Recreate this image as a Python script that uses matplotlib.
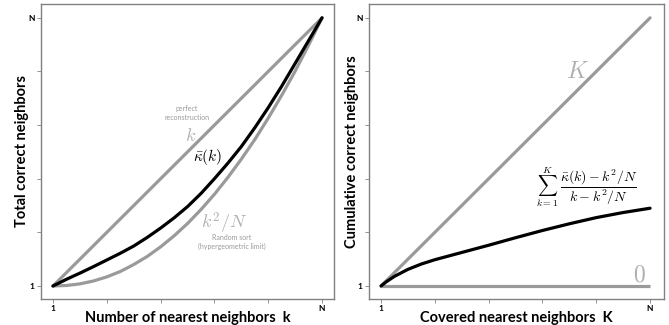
import matplotlib
matplotlib.use("Agg")
import matplotlib.pyplot as plt

# left panel: total correct neighbors vs k (scaled 0..1 between 1 and N)
k_line_x = [0.0, 1.0]
k_line_y = [0.0, 1.0]
rand_x = [0.0, 0.05, 0.1, 0.15, 0.2, 0.25, 0.3, 0.35, 0.4, 0.45, 0.5, 0.55, 0.6, 0.65,
          0.7, 0.75, 0.8, 0.85, 0.9, 0.95, 1.0]
rand_y = [0.0, 0.0019, 0.0079, 0.0186, 0.034, 0.054, 0.08, 0.11, 0.146, 0.187, 0.233,
          0.285, 0.342, 0.405, 0.473, 0.546, 0.626, 0.711, 0.801, 0.898, 1.0]
kappa_x = [0.0, 0.05, 0.1, 0.15, 0.2, 0.25, 0.3, 0.35, 0.4, 0.45, 0.5, 0.55, 0.6, 0.65,
           0.7, 0.75, 0.8, 0.85, 0.9, 0.95, 1.0]
kappa_y = [0.0, 0.025, 0.048, 0.072, 0.097, 0.122, 0.149, 0.181, 0.216, 0.254, 0.296,
           0.345, 0.4, 0.458, 0.52, 0.59, 0.665, 0.745, 0.83, 0.915, 1.0]

# right panel: cumulative correct neighbors vs K
cum_x = [0.0, 0.02, 0.05, 0.1, 0.15, 0.2, 0.3, 0.4, 0.5, 0.6, 0.7, 0.8, 0.9, 1.0]
cum_y = [0.0, 0.016, 0.036, 0.062, 0.082, 0.098, 0.125, 0.152, 0.18, 0.207, 0.232, 0.255,
         0.274, 0.29]
zero_x = [0.0, 1.0]
zero_y = [0.0, 0.0]

tick_pos = [0.0, 0.2, 0.4, 0.6, 0.8, 1.0]
tick_lbl = ["1", "", "", "", "", "N"]

GRAY = "#9a9a9a"
LIGHT = "#b0b0b0"
SPINE = "#808080"
LW = 2.3

plt.rcParams["font.family"] = ["Lato", "DejaVu Sans"]
plt.rcParams["mathtext.fontset"] = "cm"

fig = plt.figure(figsize=(6.69, 3.25), dpi=100)
axL = fig.add_axes([0.0613, 0.08, 0.438, 0.908])
axR = fig.add_axes([0.5516, 0.08, 0.441, 0.908])


def style(ax, xlim):
    ax.set_xlim(*xlim)
    ax.set_ylim(-0.0485, 1.052)
    ax.set_xticks(tick_pos)
    ax.set_xticklabels(tick_lbl)
    ax.set_yticks(tick_pos)
    ax.set_yticklabels(tick_lbl)
    for sp in ax.spines.values():
        sp.set_color(SPINE)
        sp.set_linewidth(1.0)
    ax.tick_params(length=3, width=0.6, color=SPINE, labelsize=6, pad=1.5)
    for t in ax.get_xticklabels() + ax.get_yticklabels():
        t.set_fontweight("bold")


axL.plot(k_line_x, k_line_y, color=GRAY, lw=LW, solid_capstyle="round")
axL.plot(rand_x, rand_y, color=GRAY, lw=LW, solid_capstyle="round")
axL.plot(kappa_x, kappa_y, color="black", lw=LW, solid_capstyle="round")
style(axL, (-0.0446, 1.0446))
axL.set_xlabel("Number of nearest neighbors  k", fontsize=10.5, fontweight="bold", va="center")
axL.xaxis.set_label_coords(0.5, -0.064)
axL.set_ylabel("Total correct neighbors", fontsize=10.5, fontweight="bold", va="center")
axL.yaxis.set_label_coords(-0.064, 0.5)
axL.text(0.497, 0.645, "perfect\nreconstruction", fontsize=5, color=GRAY,
         ha="center", va="center", linespacing=1.3)
axL.text(0.51, 0.56, r"$k$", fontsize=13, color=LIGHT, ha="center", va="center")
axL.text(0.575, 0.48, r"$\bar{\kappa}(k)$", fontsize=11, color="black", ha="center", va="center")
axL.text(0.635, 0.235, r"$k^2/N$", fontsize=13, color=LIGHT, ha="center", va="center")
axL.text(0.665, 0.165, "Random sort\n(hypergeometric limit)", fontsize=5, color=GRAY,
         ha="center", va="center", linespacing=1.3)

axR.plot(k_line_x, k_line_y, color=GRAY, lw=LW, solid_capstyle="round")
axR.plot(zero_x, zero_y, color=GRAY, lw=LW, solid_capstyle="butt")
axR.plot(cum_x, cum_y, color="black", lw=LW, solid_capstyle="round")
style(axR, (-0.0446, 1.052))
axR.set_xlabel("Covered nearest neighbors  K", fontsize=10.5, fontweight="bold", va="center")
axR.xaxis.set_label_coords(0.5, -0.064)
axR.set_ylabel("Cumulative correct neighbors", fontsize=10.5, fontweight="bold", va="center")
axR.yaxis.set_label_coords(-0.058, 0.5)
axR.text(0.73, 0.80, r"$K$", fontsize=17, color=LIGHT, ha="center", va="center")
axR.text(0.96, 0.04, r"$0$", fontsize=17, color=LIGHT, ha="center", va="center")
axR.text(0.765, 0.37, r"$\sum_{k=1}^{K}\;\dfrac{\bar{\kappa}(k)-k^2/N}{k-k^2/N}$",
         fontsize=10, color="black", ha="center", va="center")

fig.savefig("out.png", dpi=100)
